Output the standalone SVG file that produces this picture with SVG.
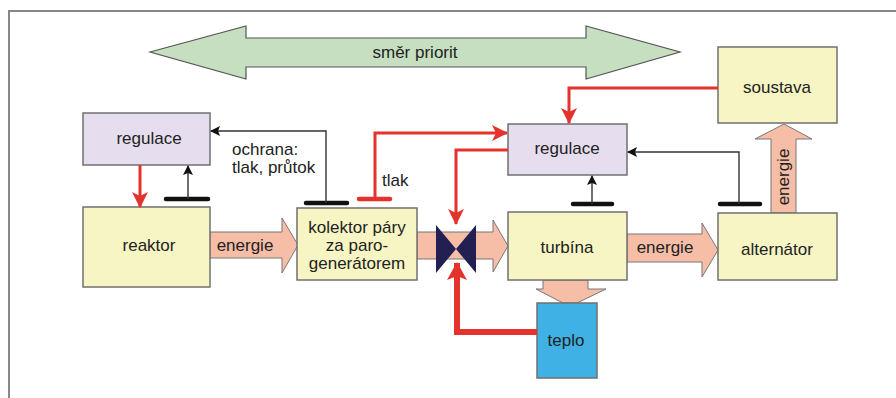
<svg xmlns="http://www.w3.org/2000/svg" width="896" height="398" viewBox="0 0 896 398">
<style>
  text { font-family: "Liberation Sans", Arial, sans-serif; font-size: 17px; fill: #222; }
  .c { text-anchor: middle; }
  .box { stroke: #707070; stroke-width: 1.5; }
  .yel { fill: #f7f5c4; }
  .lav { fill: #e6deee; }
  .blue { fill: #3fb1e5; }
  .en { fill: #f6bda7; stroke: #777; stroke-width: 1; }
  .red { fill: none; stroke: #e4322c; stroke-width: 3; }
  .redthick { fill: none; stroke: #e4322c; stroke-width: 6; }
  .thin { fill: none; stroke: #333; stroke-width: 1.4; }
  .bar { stroke: #111; stroke-width: 4.5; stroke-linecap: round; }
  .redbar { stroke: #e4322c; stroke-width: 4.5; stroke-linecap: round; }
</style>
<defs>
  <marker id="ar" markerUnits="userSpaceOnUse" viewBox="0 0 16 16" refX="15" refY="8" markerWidth="16" markerHeight="16" orient="auto">
    <path d="M0,0 L16,8 L0,16 L4,8 Z" fill="#e4322c"/>
  </marker>
  <marker id="arT" markerUnits="userSpaceOnUse" viewBox="0 0 18 20" refX="17" refY="10" markerWidth="18" markerHeight="20" orient="auto">
    <path d="M0,0 L18,10 L0,20 L4,10 Z" fill="#e4322c"/>
  </marker>
  <marker id="ab" markerUnits="userSpaceOnUse" viewBox="0 0 10 10" refX="9" refY="5" markerWidth="10" markerHeight="10" orient="auto">
    <path d="M0,0 L10,5 L0,10 L2,5 Z" fill="#111"/>
  </marker>
</defs>

<path d="M9,398 V11 H896" fill="none" stroke="#888" stroke-width="2"/>

<g id="priority">
  <polygon points="150,52 246,26 246,38 586,38 586,26 680,52 586,79 586,67 246,67 246,79" fill="#c6dfc0" stroke="#555" stroke-width="1.2"/>
  <text class="c" x="415" y="58">směr priorit</text>
</g>

<g id="energy-arrows">
  <polygon class="en" points="210,232 282,232 282,218 298,245 282,273 282,258 210,258"/>
  <text class="c" x="245" y="251">energie</text>
  <polygon class="en" points="417,232 493,232 493,220 508,246 493,272 493,259 417,259"/>
  <polygon class="en" points="627,234 702,234 702,223 718,250 702,277 702,262 627,262"/>
  <text class="c" x="665" y="253">energie</text>
  <polygon class="en" points="771,213 771,139 755,139 784,124 812,139 796,139 796,213"/>
  <text class="c" transform="translate(789,177) rotate(-90)">energie</text>
  <polygon class="en" points="543,280 588,280 588,289 606,289 577,303 563,303 536,289 543,289"/>
</g>

<g id="regulace-1">
  <rect class="box lav" x="83" y="113" width="127" height="52"/>
  <text class="c" x="149" y="144">regulace</text>
</g>
<g id="reaktor">
  <rect class="box yel" x="83" y="207" width="127" height="80"/>
  <text class="c" x="149" y="251">reaktor</text>
</g>
<g id="kolektor">
  <rect class="box yel" x="297" y="208" width="120" height="72"/>
  <text class="c" x="357" y="233">kolektor páry</text>
  <text class="c" x="357" y="251">za paro-</text>
  <text class="c" x="357" y="269">generátorem</text>
</g>
<g id="regulace-2">
  <rect class="box lav" x="508" y="124" width="119" height="51"/>
  <text class="c" x="567" y="154">regulace</text>
</g>
<g id="turbina">
  <rect class="box yel" x="508" y="212" width="119" height="68"/>
  <text class="c" x="567" y="253">turbína</text>
</g>
<g id="alternator">
  <rect class="box yel" x="718" y="213" width="119" height="67"/>
  <text class="c" x="777" y="255">alternátor</text>
</g>
<g id="soustava">
  <rect class="box yel" x="718" y="47" width="119" height="76"/>
  <text class="c" x="777" y="93">soustava</text>
</g>
<g id="teplo">
  <rect class="box blue" x="537" y="303" width="60" height="75"/>
  <text class="c" x="566" y="346">teplo</text>
</g>
<g id="valve">
  <path d="M436,225 L456,249 L436,273 Z M476,225 L456,249 L476,273 Z" fill="#231f52"/>
</g>

<g id="connectors">
  <path class="red" d="M140,165 V207" marker-end="url(#ar)"/>
  <line class="bar" x1="166" y1="199" x2="208" y2="199"/>
  <path class="thin" d="M188,199 V166" marker-end="url(#ab)"/>
  <line class="bar" x1="306" y1="203" x2="347" y2="203"/>
  <path class="thin" d="M326,203 V131 H211" marker-end="url(#ab)"/>
  <line class="redbar" x1="359" y1="199" x2="390" y2="199"/>
  <path class="red" d="M375,199 V133 H507" marker-end="url(#ar)"/>
  <path class="red" d="M508,150 H456 V224" marker-end="url(#ar)"/>
  <path class="red" d="M718,88 H569 V123" marker-end="url(#ar)"/>
  <line class="bar" x1="573" y1="204" x2="612" y2="204"/>
  <path class="thin" d="M592,204 V176" marker-end="url(#ab)"/>
  <line class="bar" x1="720" y1="204" x2="760" y2="204"/>
  <path class="thin" d="M739,204 V152 H628" marker-end="url(#ab)"/>
  <path class="redthick" d="M537,332 H457 V263" marker-end="url(#arT)"/>
</g>

<g id="labels">
  <text x="232" y="155">ochrana:</text>
  <text x="232" y="173">tlak, průtok</text>
  <text x="382" y="186">tlak</text>
</g>
</svg>
